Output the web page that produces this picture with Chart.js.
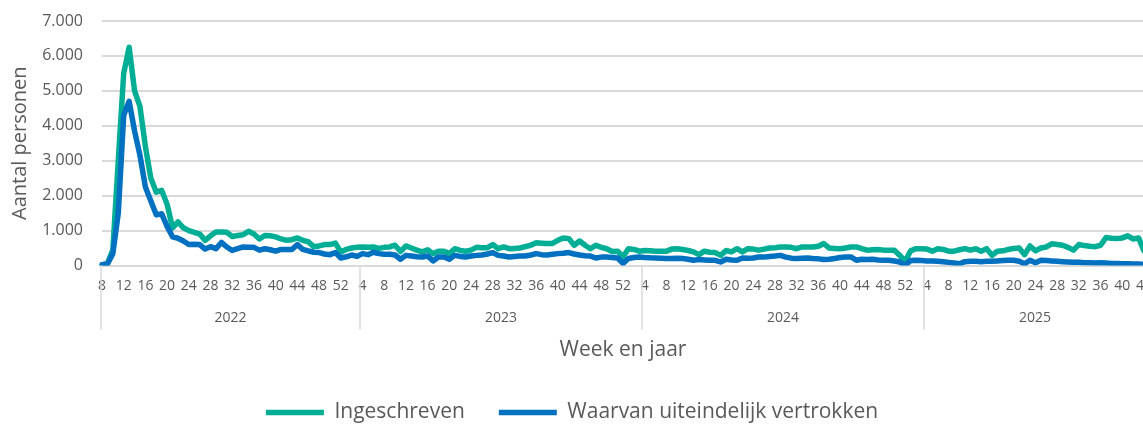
<!DOCTYPE html>
<html lang="nl">
<head>
<meta charset="utf-8">
<title>Ingeschreven en vertrokken per week</title>
<script src="https://cdn.jsdelivr.net/npm/chart.js@4"></script>
<style>
  html, body { margin: 0; padding: 0; background: #fff; overflow: hidden; }
  #wrap { position: relative; width: 1164px; height: 433px; }
</style>
</head>
<body>
<div id="wrap"><canvas id="weekChart"></canvas></div>
<script>
// Years and the week range shown per year
const years = ['2022', '2023', '2024', '2025'];
const firstWeek = [8, 1, 1, 1];
const lastWeek = [52, 52, 52, 44];

// Ingeschreven per week (2022 wk8 .. 2025 wk44)
const ingeschreven = [
    // 2022
    20, 60, 450, 3000, 5500, 6250, 5000, 4550, 3400, 2500,
    2100, 2150, 1750, 1080, 1250, 1080, 1000, 950, 900, 720,
    850, 960, 960, 950, 830, 860, 880, 980, 900, 760,
    860, 850, 820, 760, 720, 740, 790, 720, 680, 540,
    560, 600, 600, 640, 390,
    // 2023
    460, 500, 520, 530, 520, 530, 490, 520, 530, 580,
    400, 560, 500, 440, 390, 450, 340, 410, 410, 340,
    480, 430, 410, 440, 520, 510, 510, 600, 480, 530,
    480, 490, 500, 540, 580, 650, 640, 630, 630, 720,
    790, 770, 580, 700, 580, 480, 580, 520, 480, 400,
    410, 250,
    // 2024
    480, 460, 410, 430, 420, 410, 410, 410, 470, 480,
    460, 430, 390, 310, 410, 380, 370, 290, 430, 390,
    480, 390, 480, 470, 440, 470, 500, 510, 530, 530,
    520, 480, 530, 530, 530, 550, 630, 500, 490, 480,
    500, 530, 530, 480, 440, 450, 460, 440, 440, 435,
    290, 120,
    // 2025
    420, 483, 480, 470, 410, 480, 460, 410, 410, 450,
    483, 440, 480, 410, 483, 290, 410, 420, 460, 490,
    500, 310, 560, 420, 500, 530, 620, 600, 580, 520,
    440, 600, 570, 550, 540, 580, 800, 780, 770, 790,
    850, 760, 790, 420
];

// Waarvan uiteindelijk vertrokken
const vertrokken = [
    // 2022
    20, 40, 340, 1500, 4300, 4700, 3850, 3150, 2250, 1850,
    1450, 1480, 1120, 820, 780, 700, 600, 610, 600, 470,
    540, 480, 660, 530, 430, 480, 530, 520, 520, 440,
    480, 450, 410, 460, 460, 460, 600, 460, 420, 380,
    370, 330, 310, 370, 215,
    // 2023
    250, 300, 260, 340, 310, 380, 340, 320, 320, 300,
    180, 290, 270, 250, 245, 270, 130, 245, 245, 180,
    290, 260, 245, 270, 290, 300, 330, 370, 290, 270,
    245, 260, 270, 270, 300, 340, 310, 300, 320, 340,
    350, 370, 330, 300, 280, 270, 215, 240, 245, 230,
    215, 60,
    // 2024
    200, 230, 245, 230, 220, 215, 210, 200, 200, 210,
    200, 180, 150, 170, 160, 150, 150, 100, 180, 160,
    150, 215, 210, 215, 245, 240, 260, 270, 290, 240,
    210, 200, 210, 215, 200, 190, 170, 180, 200, 230,
    240, 245, 150, 180, 170, 180, 160, 150, 150, 130,
    100, 10,
    // 2025
    140, 150, 140, 130, 130, 120, 110, 90, 70, 50,
    110, 120, 120, 110, 120, 120, 130, 140, 150, 150,
    120, 50, 150, 80, 150, 140, 130, 120, 110, 100,
    90, 90, 80, 80, 70, 80, 70, 60, 60, 50,
    50, 40, 40, 30
];

// Build week labels and the index where each year starts
const weeks = [];
const yearStart = [];
years.forEach((y, k) => {
    yearStart.push(weeks.length);
    for (let w = firstWeek[k]; w <= lastWeek[k]; w++) weeks.push(String(w));
});

const grey = '#595959';
const gridGrey = '#d9d9d9';

// Draws the year row under the week labels, with the separators
const yearAxis = {
    id: 'yearAxis',
    afterDraw(chart) {
        const {ctx, chartArea, scales} = chart;
        const x = scales.x;
        const top = chartArea.bottom;
        const bottom = chartArea.bottom + 64;
        const edges = [chartArea.left - 1];
        for (let k = 1; k < years.length; k++) {
            edges.push(Math.round(x.getPixelForValue(yearStart[k] + 2.5)));
        }
        edges.push(chartArea.right + 2);

        ctx.save();
        ctx.strokeStyle = gridGrey;
        ctx.lineWidth = 1.5;
        edges.slice(0, -1).forEach(px => {
            ctx.beginPath();
            ctx.moveTo(px, top);
            ctx.lineTo(px, bottom);
            ctx.stroke();
        });
        ctx.fillStyle = grey;
        ctx.font = '14px "Open Sans"';
        ctx.textAlign = 'center';
        ctx.textBaseline = 'middle';
        years.forEach((y, k) => {
            ctx.fillText(y, (edges[k] + edges[k + 1]) / 2, top + 53);
        });
        ctx.restore();
    }
};

Chart.defaults.font.family = '"Open Sans", sans-serif';
Chart.defaults.color = grey;

const ctx = document.getElementById('weekChart').getContext('2d');
const weekChart = new Chart(ctx, {
    type: 'line',
    data: {
        labels: weeks,
        datasets: [{
            label: 'Ingeschreven',
            data: ingeschreven,
            borderColor: '#00AE96',
            backgroundColor: '#00AE96',
            borderWidth: 5.5,
            order: 1
        }, {
            label: 'Waarvan uiteindelijk vertrokken',
            data: vertrokken,
            borderColor: '#0070C0',
            backgroundColor: '#0070C0',
            borderWidth: 5.5,
            order: 0
        }]
    },
    options: {
        responsive: true,
        maintainAspectRatio: false,
        animation: false,
        layout: { padding: { top: 21, right: 20, left: 0, bottom: 0 } },
        elements: {
            point: { radius: 0 },
            line: { tension: 0, borderCapStyle: 'round', borderJoinStyle: 'round' }
        },
        scales: {
            x: {
                offset: false,
                grid: { display: false, drawTicks: false },
                border: { display: false },
                ticks: {
                    autoSkip: false,
                    maxRotation: 0,
                    minRotation: 0,
                    padding: 12,
                    font: { size: 14 },
                    callback: (value, index) => index % 4 === 0 ? weeks[index] : ''
                },
                title: {
                    display: true,
                    text: 'Week en jaar',
                    font: { size: 21 },
                    padding: { top: 31.5, bottom: 5 }
                }
            },
            y: {
                min: 0,
                max: 7000,
                grid: { color: gridGrey, lineWidth: 2, drawTicks: false },
                border: { display: false },
                ticks: {
                    stepSize: 1000,
                    padding: 19,
                    font: { size: 16 },
                    callback: v => String(v).replace(/\B(?=(\d{3})+(?!\d))/g, '.')
                },
                title: {
                    display: true,
                    text: 'Aantal personen',
                    font: { size: 20 },
                    padding: { top: 8, bottom: 0 }
                },
                afterFit: scale => {
                    scale.width = 102;
                    // tick padding should not push the plot area down
                    scale.paddingTop = 0;
                    scale.paddingBottom = 0;
                }
            }
        },
        plugins: {
            legend: {
                position: 'bottom',
                labels: {
                    usePointStyle: true,
                    pointStyle: 'line',
                    pointStyleWidth: 58,
                    padding: 34,
                    font: { size: 21 },
                    color: grey,
                    sort: (a, b) => a.datasetIndex - b.datasetIndex
                }
            },
            tooltip: { enabled: false }
        }
    },
    plugins: [yearAxis]
});
</script>
</body>
</html>
